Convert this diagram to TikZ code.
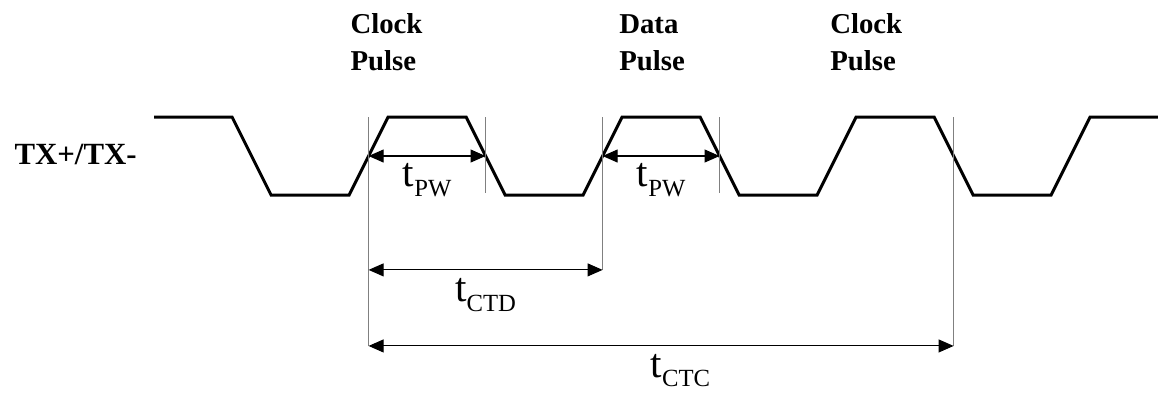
\documentclass[tikz,border=0pt]{standalone}
\usepackage{fontspec}
\setmainfont{Liberation Serif}
\usetikzlibrary{arrows.meta,calc}
\newcommand{\tsub}[1]{{\fontsize{30}{30}\selectfont t}{\fontsize{18}{18}\selectfont\raisebox{-7pt}{#1}}}

\begin{document}
\begin{tikzpicture}[>={Triangle[length=11pt,width=9.5pt]},
  wave/.style={line width=2.2pt,line join=miter},
  guide/.style={gray,line width=1pt},
  dim/.style={<->,line width=0.75pt},
  lbl/.style={anchor=base,inner sep=0pt},
  head/.style={font=\bfseries\fontsize{21}{27.7}\selectfont,align=left,anchor=base west,inner sep=0pt}]
\useasboundingbox (-3.95,-6.10) rectangle (25.74,4.0);
% ---------- signal ----------
\node[font=\bfseries\fontsize{22.5}{22.5}\selectfont,anchor=base east,inner sep=0pt] (tx) at (-0.44,-0.23) {TX+/TX-};
\draw[wave] (0,1)--(2,1)--(3,-1)--(5,-1)--(6,1)--(8,1)--(9,-1)--(11,-1)--(12,1)--(14,1)
  --(15,-1)--(17,-1)--(18,1)--(20,1)--(21,-1)--(23,-1)--(24,1)--(25.74,1);
% ---------- pulse names (base = last line) ----------
\node[head] (clk1) at (5.03,2.18) {Clock\\Pulse};
\node[head] (data) at (11.92,2.18) {Data\\Pulse};
\node[head] (clk2) at (17.33,2.18) {Clock\\Pulse};
% ---------- edge crossings ----------
\coordinate (c1) at (5.5,0); \coordinate (c2) at (8.5,0); \coordinate (c3) at (11.5,0);
\coordinate (c4) at (14.5,0); \coordinate (c5) at (20.5,0);
\draw[guide] ($(c1)+(0,1)$)--($(c1)+(0,-4.87)$);
\draw[guide] ($(c2)+(0,1)$)--($(c2)+(0,-0.95)$);
\draw[guide] ($(c3)+(0,1)$)--($(c3)+(0,-2.92)$);
\draw[guide] ($(c4)+(0,1)$)--($(c4)+(0,-0.95)$);
\draw[guide] ($(c5)+(0,1)$)--($(c5)+(0,-4.87)$);
% ---------- timings ----------
\draw[dim] (c1)--(c2) node[lbl,midway,yshift=-0.79cm]{\tsub{PW}};
\draw[dim] (c3)--(c4) node[lbl,midway,yshift=-0.79cm]{\tsub{PW}};
\coordinate (d1) at ($(c1)+(0,-2.92)$); \coordinate (d3) at ($(c3)+(0,-2.92)$);
\draw[dim] (d1)--(d3) node[lbl,midway,yshift=-0.82cm]{\tsub{CTD}};
\coordinate (e1) at ($(c1)+(0,-4.87)$); \coordinate (e5) at ($(c5)+(0,-4.87)$);
\draw[dim] (e1)--(e5) node[lbl,pos=0.533,yshift=-0.8cm]{\tsub{CTC}};
\end{tikzpicture}
\end{document}
